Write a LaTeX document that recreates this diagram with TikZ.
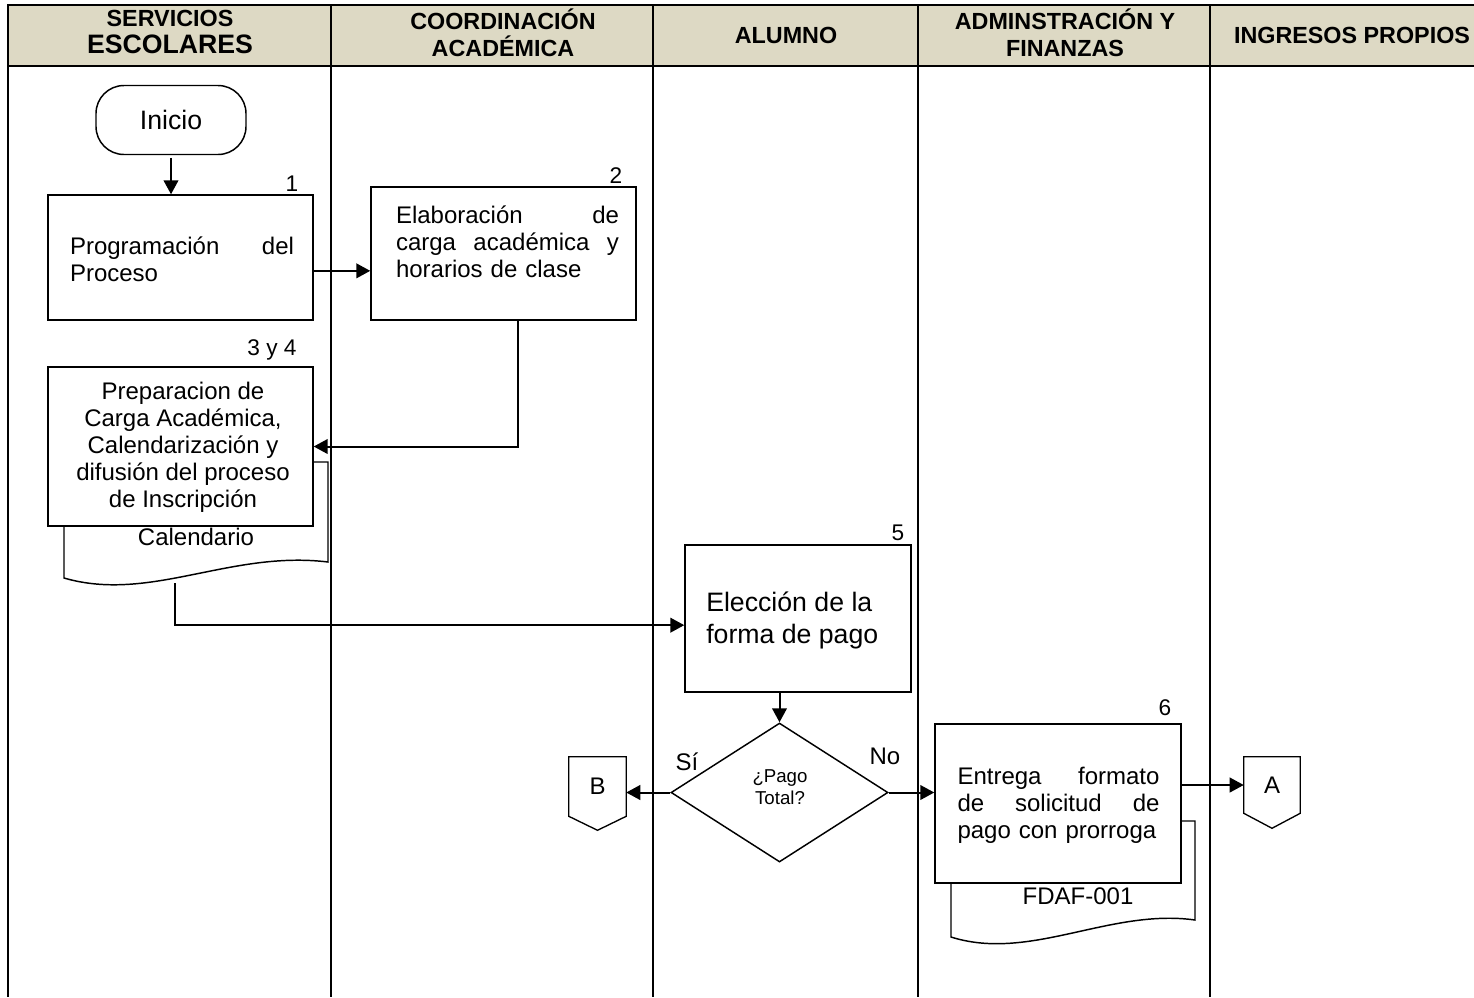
\documentclass[tikz,border=0pt]{standalone}
\usepackage{fontspec}
\setmainfont{Liberation Sans}
\usetikzlibrary{arrows.meta,shapes.geometric,calc}
\definecolor{hdr}{RGB}{221,217,196}
\begin{document}
\begin{tikzpicture}[x=0.75pt,y=-0.75pt,
  lane/.style={line width=1.6pt},
  hdrtxt/.style={font=\fontsize{17.5}{20.25}\selectfont\bfseries, align=center, inner sep=0pt},
  proc/.style={draw, line width=1.1pt, fill=white, inner sep=0pt},
  body/.style={font=\fontsize{18}{20.25}\selectfont, inner sep=0pt},
  num/.style={font=\fontsize{17}{20}\selectfont, inner sep=0pt},
  doc/.style={draw, line width=1.1pt, fill=white},
  conn/.style={draw, line width=1pt, fill=white},
  arr/.style={line width=1.5pt, -{Triangle[length=10.5pt,width=11pt]}}]
\useasboundingbox (0,0) rectangle (1474,997);
% header and lanes
\fill[hdr] (8,5) rectangle (1474,66);
\draw[lane] (1474,5) -- (8,5) -- (8,997);
\draw[lane] (8,66) -- (1474,66);
\foreach \x in {331,653,918,1210} \draw[lane] (\x,5) -- (\x,997);
\node[hdrtxt] (h1) at (170,32) {SERVICIOS\\{\fontsize{20}{20.25}\selectfont ESCOLARES}};
\node[hdrtxt] (h2) at (503,33) {COORDINACIÓN\\ACADÉMICA};
\node[hdrtxt] (h3) at (786,35) {ALUMNO};
\node[hdrtxt] (h4) at (1065,33) {ADMINSTRACIÓN Y\\FINANZAS};
\node[hdrtxt] (h5) at (1352,35) {INGRESOS PROPIOS};
% start
\node[draw, line width=1.1pt, rounded corners=21pt, minimum width=150*0.75pt, minimum height=69*0.75pt, font=\fontsize{20}{24}\selectfont] (ini) at (171,120) {Inicio};
% box 1
\node[proc, minimum width=265*0.75pt, minimum height=125*0.75pt] (b1) at (180.5,257.5) {};
\node[body, text width=224*0.75pt, align=left] (b1t) at (182,259) {Programación\hfill del\\Proceso};
\node[num] (n1) at (292,184) {1};
% box 2
\node[proc, minimum width=265*0.75pt, minimum height=133*0.75pt] (b2) at (503.5,253.5) {};
\node[body, text width=223*0.75pt, align=left] (b2t) at (507.5,242) {Elaboración\hfill de\\carga\hfill académica\hfill y\\horarios de clase};
\node[num] (n2) at (616,176) {2};
% document 3 y 4
\path[doc] (64,462) -- (328,462) -- (328,562) .. controls (230,550) and (150,603) .. (64,578) -- cycle;
\node[proc, minimum width=265*0.75pt, minimum height=159*0.75pt] (b3) at (180.5,446.5) {};
\node[body, align=center] (b3t) at (183,447) {Preparacion de\\Carga Académica,\\Calendarización y\\difusión del proceso\\de Inscripción};
\node[body] (cal) at (196,537) {Calendario};
\node[num] (n3) at (272,350) {3 y 4};
\coordinate (d3) at (175,583);
% box 5
\node[proc, minimum width=226*0.75pt, minimum height=147*0.75pt] (b5) at (798,618.5) {};
\node[font=\fontsize{20}{24}\selectfont, inner sep=0pt, anchor=west, align=left] (b5t) at (706,620) {Elección de la\\forma de pago};
\node[num] (n5) at (898,533) {5};
% decision
\node[draw, diamond, line width=1.1pt, inner sep=0pt, minimum width=217*0.75pt, minimum height=139*0.75pt] (dia) at (779.5,792.5) {};
\node[font=\fontsize{14}{17}\selectfont, inner sep=0pt, align=center] (diat) at (780,787) {¿Pago\\Total?};
\node[body] (si) at (687,762) {Sí};
\node[body] (no) at (885,756) {No};
% connector B
\node[body, minimum width=57*0.75pt, minimum height=59*0.75pt] (B) at (597.5,786.5) {};
\path[conn] (B.north west) -- (B.north east) -- (B.south east) -- ($(B.south)+(0,14)$) -- (B.south west) -- cycle;
\node[body] (Bt) at (B.center) {B};
% box 6
\path[doc] (951,821) -- (1195,821) -- (1195,920) .. controls (1110,908) and (1030,962) .. (951,937) -- cycle;
\node[proc, minimum width=246*0.75pt, minimum height=159*0.75pt] (b6) at (1058,803.5) {};
\node[body, text width=202*0.75pt, align=left] (b6t) at (1058.5,805) {Entrega\hfill formato\\de\hfill solicitud\hfill de\\pago con prorroga};
\node[body] (fdaf) at (1078,896) {FDAF-001};
\node[num] (n6) at (1165,708) {6};
% connector A
\node[body, minimum width=56*0.75pt, minimum height=56*0.75pt] (A) at (1272,785) {};
\path[conn] (A.north west) -- (A.north east) -- (A.south east) -- ($(A.south)+(0,15)$) -- (A.south west) -- cycle;
\node[body] (At) at (A.center) {A};
% arrows
\draw[arr] ([yshift=-2pt]ini.south) -- (ini.south |- b1.north);
\draw[arr] ([yshift=-10pt]b1.east) -- ([yshift=-10pt]b1.east -| b2.west);
\draw[arr] ([xshift=11pt]b2.south) |- (b3.east);
\draw[arr] (d3) |- ([yshift=-5pt]b5.west);
\draw[arr] (b5.south -| dia.north) -- (dia.north);
\draw[arr] (dia.west) -- (dia.west -| B.east);
\draw[arr] (dia.east) -- (dia.east -| b6.west);
\draw[arr] (A.west -| b6.east) -- (A.west);
\end{tikzpicture}
\end{document}
